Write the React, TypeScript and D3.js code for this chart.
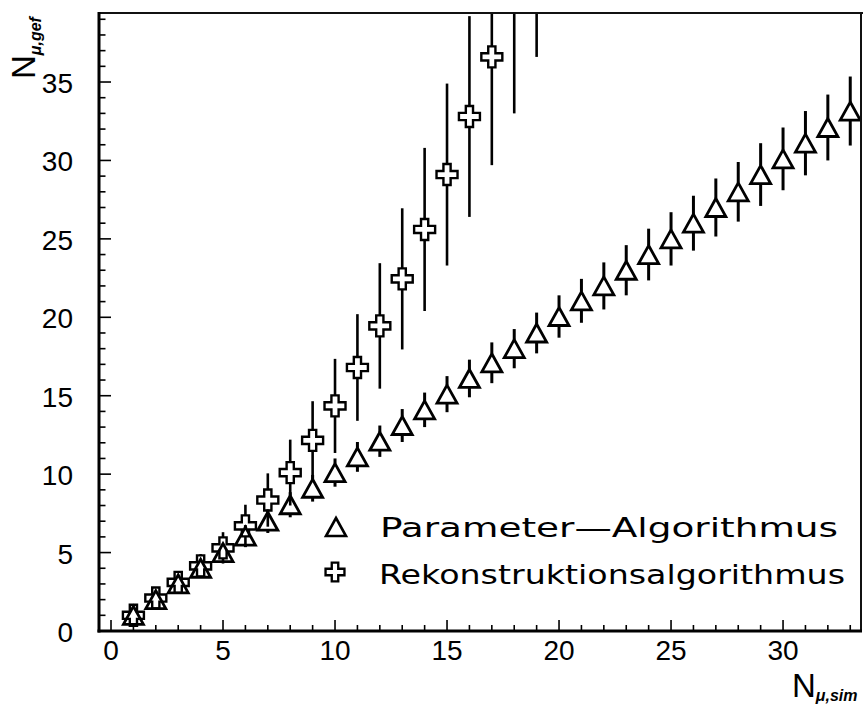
import React from "react";
import * as d3 from "d3";

const paramX = [1,2,3,4,5,6,7,8,9,10,11,12,13,14,15,16,17,18,19,20,21,22,23,24,25,26,27,28,29,30,31,32,33];
const paramY = [1.0,2.0,3.0,4.0,5.0,6.05,7.0,8.05,9.1,10.1,11.1,12.1,13.1,14.1,15.1,16.1,17.1,18.0,19.0,20.05,21.05,22.0,23.0,24.0,25.0,26.0,27.0,28.0,29.1,30.1,31.1,32.1,33.15];
const paramErr = [0.3,0.4,0.5,0.55,0.6,0.7,0.75,0.8,0.85,0.9,0.95,1.0,1.05,1.1,1.15,1.2,1.3,1.25,1.3,1.35,1.4,1.5,1.6,1.65,1.7,1.75,1.85,1.9,2.0,2.0,2.05,2.1,2.2];

const recoX = [1,2,3,4,5,6,7,8,9,10,11,12,13,14,15,16,17,18,19];
const recoY = [1.0,2.1,3.1,4.15,5.3,6.7,8.35,10.1,12.15,14.35,16.8,19.45,22.45,25.6,29.1,32.8,36.6,40.5,44.6];
const recoErr = [0.3,0.45,0.6,0.75,1.0,1.35,1.7,2.1,2.5,3.0,3.4,4.0,4.5,5.2,5.8,6.4,6.9,7.5,8.0];

const xTickLabels = [0,5,10,15,20,25,30];
const yTickLabels = [0,5,10,15,20,25,30,35];
const legendLabels = ["Parameter\u2014Algorithmus", "Rekonstruktionsalgorithmus"];

const W = 863, H = 708;
const L = 99, R = 861, T = 13, B = 631;

export default function App() {
  const x = d3.scaleLinear().domain([-0.536, 33.48]).range([L, R]);
  const y = d3.scaleLinear().domain([0, 39.4]).range([B, T]);

  const triH = 9, triW = 10;
  const triPath = `M0,${-triH}L${triW},${triH}L${-triW},${triH}Z`;
  const s = 10.5, a = 3.6;
  const crossPath = `M${-a},${-s}L${a},${-s}L${a},${-a}L${s},${-a}L${s},${a}L${a},${a}L${a},${s}L${-a},${s}L${-a},${a}L${-s},${a}L${-s},${-a}L${-a},${-a}Z`;

  const xMinor = d3.range(0, 34, 1);
  const yMinor = d3.range(1, 40, 1);

  const bar = (cx: number, v: number, e: number, half: number, sw: number, key: string) => {
    const cy = y(v);
    const top = y(v + e), bot = y(v - e);
    const segs = [] as any[];
    if (top < cy - half) segs.push(<line key={key + "t"} x1={cx} x2={cx} y1={cy - half} y2={top} stroke="#000" strokeWidth={sw} />);
    if (bot > cy + half) segs.push(<line key={key + "b"} x1={cx} x2={cx} y1={cy + half} y2={bot} stroke="#000" strokeWidth={sw} />);
    return segs;
  };

  const font = "'Liberation Sans', Arial, sans-serif";

  return (
    <svg width={W} height={H} style={{ position: "absolute", left: 0, top: 0, background: "#fff" }}>
      <defs>
        <clipPath id="plot">
          <rect x={L} y={T} width={R - L} height={B - T} />
        </clipPath>
      </defs>
      <rect x={0} y={0} width={W} height={H} fill="#fff" />

      <g clipPath="url(#plot)">
        {paramX.map((xv, i) => bar(x(xv), paramY[i], paramErr[i], triH, 3, "p" + i))}
        {recoX.map((xv, i) => bar(x(xv), recoY[i], recoErr[i], s, 2.6, "r" + i))}
        {paramX.map((xv, i) => (
          <path key={"tp" + i} d={triPath} transform={`translate(${x(xv)},${y(paramY[i])})`} fill="none" stroke="#000" strokeWidth={2.8} strokeLinejoin="miter" />
        ))}
        {recoX.map((xv, i) => (
          <path key={"cp" + i} d={crossPath} transform={`translate(${x(xv)},${y(recoY[i])})`} fill="none" stroke="#000" strokeWidth={2.4} />
        ))}
      </g>

      {/* frame */}
      <line x1={L} x2={W} y1={T} y2={T} stroke="#111" strokeWidth={2.2} />
      <line x1={R} x2={R} y1={T} y2={B} stroke="#111" strokeWidth={2} />
      <line x1={L} x2={L} y1={T - 1} y2={B + 1.5} stroke="#000" strokeWidth={3} />
      <line x1={L - 1.5} x2={R + 1} y1={B} y2={B} stroke="#000" strokeWidth={3} />

      {/* x ticks */}
      {xMinor.map((v) => (
        <line key={"xt" + v} x1={x(v)} x2={x(v)} y1={B} y2={B - (v % 5 === 0 ? 11 : 6)} stroke="#000" strokeWidth={1.6} />
      ))}
      {yMinor.map((v) => (
        <line key={"yt" + v} x1={L} x2={L + (v % 5 === 0 ? 12 : 6.5)} y1={y(v)} y2={y(v)} stroke="#000" strokeWidth={1.6} />
      ))}

      {xTickLabels.map((v) => (
        <text key={"xl" + v} x={x(v)} y={660} textAnchor="middle" fontFamily={font} fontSize={28} fill="#000">{v}</text>
      ))}
      {yTickLabels.map((v) => (
        <text key={"yl" + v} x={73} y={y(v) + 11} textAnchor="end" fontFamily={font} fontSize={28} fill="#000">{v}</text>
      ))}

      {/* axis titles */}
      <text x={792} y={697} fontFamily={font} fontSize={33} fill="#000">
        N<tspan fontSize={16} fontWeight="bold" fontStyle="italic" dy={4}>{"\u03bc,sim"}</tspan>
      </text>
      <text transform="translate(35,79) rotate(-90)" fontFamily={font} fontSize={33} fill="#000">
        N<tspan fontSize={16} fontWeight="bold" fontStyle="italic" dy={6}>{"\u03bc,gef"}</tspan>
      </text>

      {/* legend */}
      <path d={triPath} transform={`translate(336,527)`} fill="none" stroke="#000" strokeWidth={2.6} />
      <path d={crossPath} transform={`translate(335,572) scale(0.9)`} fill="none" stroke="#000" strokeWidth={2.6} />
      <text x={380} y={537} fontFamily="'DejaVu Sans', sans-serif" fontSize={26} fill="#000" textLength={458} lengthAdjust="spacingAndGlyphs">{legendLabels[0]}</text>
      <text x={379} y={584} fontFamily="'DejaVu Sans', sans-serif" fontSize={26} fill="#000" textLength={466} lengthAdjust="spacingAndGlyphs">{legendLabels[1]}</text>
    </svg>
  );
}
